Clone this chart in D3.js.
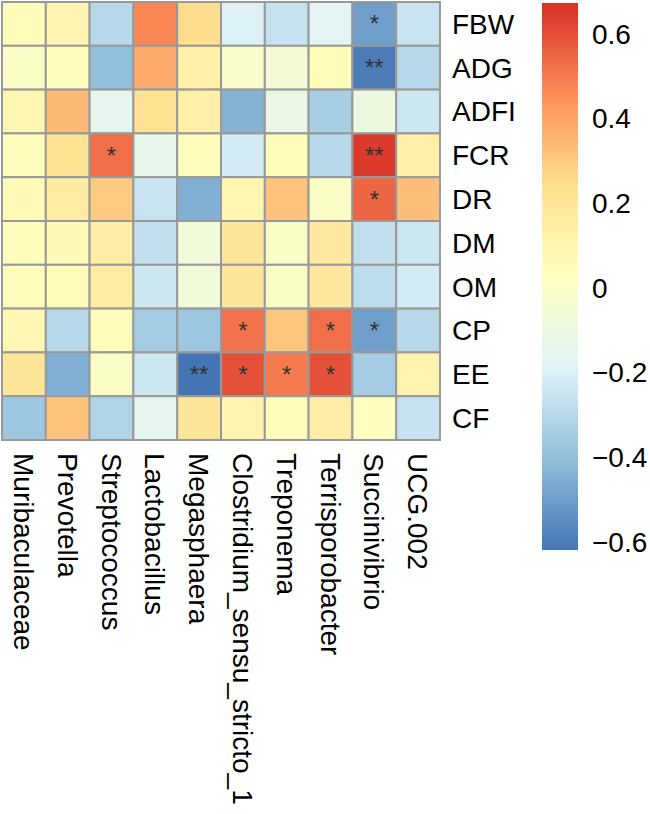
<!DOCTYPE html>
<html lang='en'>
<head>
	<meta charset='utf-8'>
	<script type='text/javascript' src='https://d3js.org/d3.v7.min.js'></script>
	<style type='text/css'>
		body { margin:0; background:#fff; }
		text { font-family: Arial, 'Liberation Sans', sans-serif; fill:#000; }
		.star { fill:#333; }
	</style>
</head>
<body>
	<div id='chart'></div>
	<script type='text/javascript'>
		// row / column names
		var traits = ['FBW','ADG','ADFI','FCR','DR','DM','OM','CP','EE','CF'];
		var genera = ['Muribaculaceae','Prevotella','Streptococcus','Lactobacillus','Megasphaera',
			'Clostridium_sensu_stricto_1','Treponema','Terrisporobacter','Succinivibrio','UCG.002'];

		// correlation values, one row per trait
		var corr = [
			[ 0.05,  0.10, -0.30,  0.47,  0.25, -0.20, -0.26, -0.17, -0.50, -0.25],
			[ 0.00,  0.04, -0.40,  0.38,  0.13, -0.02, -0.06,  0.05, -0.60, -0.30],
			[ 0.09,  0.34, -0.15,  0.23,  0.13, -0.44, -0.12, -0.34, -0.10, -0.24],
			[ 0.04,  0.22,  0.53, -0.14,  0.04, -0.22,  0.05, -0.30,  0.65,  0.14],
			[ 0.06,  0.16,  0.30, -0.25, -0.45,  0.09,  0.32,  0.00,  0.55,  0.33],
			[ 0.04,  0.06,  0.15, -0.27, -0.07,  0.20,  0.00,  0.18, -0.27, -0.24],
			[ 0.04,  0.05,  0.16, -0.24, -0.07,  0.20,  0.00,  0.19, -0.28, -0.22],
			[ 0.08, -0.30,  0.04, -0.35, -0.37,  0.52,  0.31,  0.53, -0.50, -0.30],
			[ 0.20, -0.45,  0.00, -0.24, -0.62,  0.60,  0.50,  0.60, -0.35,  0.10],
			[-0.37,  0.32, -0.32, -0.15,  0.20,  0.10,  0.05,  0.15,  0.02, -0.26]
		];

		// significance marks
		var stars = [
			['','','','','','','','','*',''],
			['','','','','','','','','**',''],
			['','','','','','','','','',''],
			['','','*','','','','','','**',''],
			['','','','','','','','','*',''],
			['','','','','','','','','',''],
			['','','','','','','','','',''],
			['','','','','','*','','*','*',''],
			['','','','','**','*','*','*','',''],
			['','','','','','','','','','']
		];

		var legendTicks = [-0.6, -0.4, -0.2, 0, 0.2, 0.4, 0.6];
		var valueRange = [-0.619, 0.673];
		var palette = ['#4575B4','#91BFDB','#E0F3F8','#FFFFBF','#FEE090','#FC8D59','#D73027'];

		var width = 650, height = 814;

		var svg = d3.select('#chart').append('svg')
			.attr('width', width)
			.attr('height', height);

		var x = d3.scaleBand().domain(genera).range([2, 440]);
		var y = d3.scaleBand().domain(traits).range([2, 440]);

		var stops = d3.range(palette.length).map(function(i){
			return valueRange[0] + i * (valueRange[1] - valueRange[0]) / (palette.length - 1);
		});
		var color = d3.scaleLinear().domain(stops).range(palette).interpolate(d3.interpolateRgb);

		var cells = [];
		traits.forEach(function(t, i){
			genera.forEach(function(g, j){
				cells.push({row: t, col: g, v: corr[i][j], s: stars[i][j]});
			});
		});

		svg.selectAll('.cell')
			.data(cells)
			.enter()
			.append('rect')
			.attr('class', 'cell')
			.attr('x', function(d){ return x(d.col); })
			.attr('y', function(d){ return y(d.row); })
			.attr('width', x.bandwidth())
			.attr('height', y.bandwidth())
			.style('fill', function(d){ return color(d.v); })
			.style('stroke', '#999')
			.style('stroke-width', 2);

		svg.selectAll('.star')
			.data(cells.filter(function(d){ return d.s; }))
			.enter()
			.append('text')
			.attr('class', 'star')
			.attr('x', function(d){ return x(d.col) + x.bandwidth() / 2; })
			.attr('y', function(d){ return y(d.row) + y.bandwidth() / 2; })
			.attr('dy', '0.35em')
			.attr('text-anchor', 'middle')
			.style('font-size', '24px')
			.text(function(d){ return d.s; });

		// row labels
		svg.selectAll('.row-label')
			.data(traits)
			.enter()
			.append('text')
			.attr('class', 'row-label')
			.attr('x', 452)
			.attr('y', function(d){ return y(d) + y.bandwidth() / 2; })
			.attr('dy', '0.35em')
			.style('font-size', '28px')
			.text(function(d){ return d; });

		// column labels, rotated
		svg.selectAll('.col-label')
			.data(genera)
			.enter()
			.append('text')
			.attr('class', 'col-label')
			.attr('transform', function(d){
				return 'translate(' + (x(d) + x.bandwidth() / 2) + ',453) rotate(90)';
			})
			.attr('dy', '0.35em')
			.style('font-size', '28px')
			.text(function(d){ return d; });

		// colour bar
		var ly = d3.scaleLinear().domain(valueRange).range([550, 3]);
		var grad = svg.append('defs').append('linearGradient')
			.attr('id', 'bar')
			.attr('x1', 0).attr('y1', 1).attr('x2', 0).attr('y2', 0);
		grad.selectAll('stop')
			.data(stops)
			.enter()
			.append('stop')
			.attr('offset', function(d, i){ return i / (stops.length - 1); })
			.attr('stop-color', function(d){ return color(d); });

		svg.append('rect')
			.attr('x', 542)
			.attr('y', ly(valueRange[1]))
			.attr('width', 36)
			.attr('height', ly(valueRange[0]) - ly(valueRange[1]))
			.style('fill', 'url(#bar)');

		var fmt = function(d){ return d === 0 ? '0' : d3.format('.1f')(d).replace('-', '\u2212'); };
		svg.selectAll('.tick-label')
			.data(legendTicks)
			.enter()
			.append('text')
			.attr('class', 'tick-label')
			.attr('x', 592)
			.attr('y', function(d){ return ly(d); })
			.attr('dy', '0.35em')
			.style('font-size', '28px')
			.text(fmt);
	</script>
</body>
</html>
